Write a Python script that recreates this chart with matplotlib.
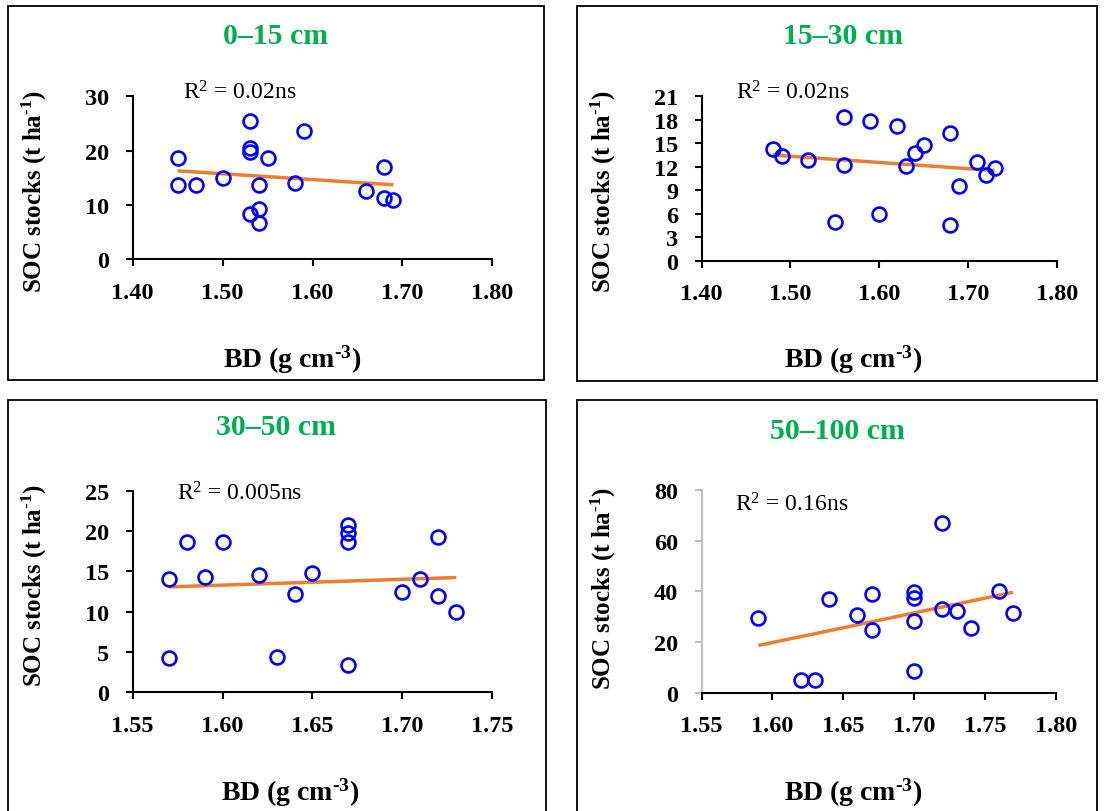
import numpy as np
import matplotlib
matplotlib.use('Agg')
import matplotlib.pyplot as plt
from matplotlib.patches import Rectangle

plt.rcParams['font.family'] = ['Liberation Serif', 'DejaVu Serif']
plt.rcParams['mathtext.fontset'] = 'custom'
plt.rcParams['mathtext.rm'] = 'Liberation Serif'
plt.rcParams['mathtext.bf'] = 'Liberation Serif:bold'
plt.rcParams['mathtext.it'] = 'Liberation Serif:italic'

# ---------------- data ----------------
titles = ['0–15 cm', '15–30 cm', '30–50 cm', '50–100 cm']
r2_labels = ['0.02ns', '0.02ns', '0.005ns', '0.16ns']

bd_0_15 = [1.45, 1.45, 1.47, 1.50, 1.53, 1.53, 1.53, 1.55, 1.54, 1.54, 1.53, 1.54,
           1.59, 1.58, 1.66, 1.68, 1.68, 1.69]
soc_0_15 = [18.6, 13.7, 13.7, 14.9, 25.4, 20.5, 19.8, 18.7, 13.7, 9.3, 8.3, 6.6,
            23.6, 14.0, 12.5, 16.9, 11.2, 10.9]

bd_15_30 = [1.48, 1.49, 1.52, 1.56, 1.56, 1.55, 1.59, 1.60, 1.62, 1.63, 1.64, 1.65,
            1.68, 1.68, 1.69, 1.71, 1.72, 1.73]
soc_15_30 = [14.3, 13.4, 12.8, 18.3, 12.2, 5.0, 17.8, 6.0, 17.2, 12.1, 13.8, 14.8,
             16.3, 4.5, 9.6, 12.6, 11.0, 11.8]

bd_30_50 = [1.57, 1.57, 1.58, 1.59, 1.60, 1.62, 1.63, 1.64, 1.65, 1.67, 1.67, 1.67,
            1.67, 1.70, 1.71, 1.72, 1.72, 1.73]
soc_30_50 = [14.0, 4.3, 18.6, 14.3, 18.6, 14.5, 4.4, 12.2, 14.8, 20.7, 19.7, 18.7,
             3.4, 12.5, 14.0, 19.3, 11.9, 9.9]

bd_50_100 = [1.59, 1.62, 1.63, 1.64, 1.66, 1.67, 1.67, 1.70, 1.70, 1.70, 1.70, 1.72,
             1.72, 1.73, 1.74, 1.76, 1.77]
soc_50_100 = [29.5, 5.1, 5.1, 37.0, 30.7, 38.9, 24.8, 39.6, 37.3, 28.2, 8.8, 66.9,
              33.1, 32.2, 25.5, 40.3, 31.5]

x_ticks_top = [1.40, 1.50, 1.60, 1.70, 1.80]
y_ticks_1 = [0, 10, 20, 30]
y_ticks_2 = [0, 3, 6, 9, 12, 15, 18, 21]
x_ticks_3 = [1.55, 1.60, 1.65, 1.70, 1.75]
y_ticks_3 = [0, 5, 10, 15, 20, 25]
x_ticks_4 = [1.55, 1.60, 1.65, 1.70, 1.75, 1.80]
y_ticks_4 = [0, 20, 40, 60, 80]

datasets = [
    (bd_0_15, soc_0_15, x_ticks_top, y_ticks_1),
    (bd_15_30, soc_15_30, x_ticks_top, y_ticks_2),
    (bd_30_50, soc_30_50, x_ticks_3, y_ticks_3),
    (bd_50_100, soc_50_100, x_ticks_4, y_ticks_4),
]

# ---------------- layout (pixels) ----------------
W, H = 1104, 812
fig = plt.figure(figsize=(W / 100, H / 100), dpi=100)


def rect(x0, y0, x1, y1):
    return [x0 / W, 1 - y1 / H, (x1 - x0) / W, (y1 - y0) / H]


boxes = [(8, 7, 544, 381), (577, 7, 1097, 382), (8, 401, 546, 830), (577, 401, 1097, 830)]
axes_px = [(132.7, 97.3, 492.3, 260.3), (701.7, 97.3, 1056.7, 261.7),
           (132.7, 491.7, 492.3, 693.3), (701.7, 490.7, 1055.7, 694.0)]
title_pos = [(276, 36), (843, 36), (276, 428), (837, 432)]
ylab_pos = [(34, 191), (603, 191), (34, 585), (603, 588)]
xlab_pos = [(292, 360), (853, 360), (290, 793), (853, 793)]
r2_pos = [(183, 93), (736, 93), (177, 494), (735, 505)]

green = '#00b050'
orange = '#ed7d31'

ylabel_txt = 'SOC stocks (t ha$^{\\mathbf{\u2010}\\mathbf{1}}$)'
xlabel_txt = 'BD (g cm$^{\\mathbf{\u2010}\\mathbf{3}}$)'

for i, (xs, ys, xt, yt) in enumerate(datasets):
    bx0, by0, bx1, by1 = boxes[i]
    fig.patches.append(Rectangle((bx0 / W, 1 - by1 / H), (bx1 - bx0) / W, (by1 - by0) / H,
                                 transform=fig.transFigure, fill=False, ec='black', lw=1.3))
    ax = fig.add_axes(rect(*axes_px[i]))
    ax.set_xlim(xt[0], xt[-1])
    ax.set_ylim(yt[0], yt[-1])
    ax.set_xticks(xt)
    ax.set_yticks(yt)
    ax.set_xticklabels([f'{v:.2f}' for v in xt])
    ax.set_yticklabels([f'{v:d}' for v in yt])
    for s in ['top', 'right']:
        ax.spines[s].set_visible(False)
    spine_col = '#bfbfbf' if i == 3 else 'black'
    ax.spines['left'].set_color(spine_col)
    ax.spines['left'].set_linewidth(1.5)
    ax.spines['bottom'].set_linewidth(1.5)
    ax.tick_params(axis='y', direction='out', length=5, width=1.5, color=spine_col, pad=12)
    ax.tick_params(axis='x', direction='out', length=5, width=1.5, pad=11)
    for lab in ax.get_xticklabels() + ax.get_yticklabels():
        lab.set_fontsize(17.5)
        lab.set_fontweight('bold')
    ax.patch.set_alpha(0)

    xa = np.array(xs)
    ya = np.array(ys)
    m, b = np.polyfit(xa, ya, 1)
    xl = np.array([xa.min(), xa.max()])
    ax.plot(xl, m * xl + b, color=orange, lw=2.5, zorder=2, solid_capstyle='butt')
    ax.plot(xa, ya, 'o', ms=10, mfc='none', mec='#0000ff', mew=1.9, zorder=3, clip_on=False)

    tx, ty = title_pos[i]
    fig.text(tx / W, 1 - ty / H, titles[i], color=green, fontsize=21.5, fontweight='bold',
             ha='center', va='center')
    lx, ly = ylab_pos[i]
    fig.text(lx / W, 1 - ly / H, ylabel_txt, fontsize=18,
             fontweight='bold', rotation=90, ha='center', va='center')
    lx, ly = xlab_pos[i]
    fig.text(lx / W, 1 - ly / H, xlabel_txt, fontsize=20,
             fontweight='bold', ha='center', va='center')
    rx, ry = r2_pos[i]
    fig.text(rx / W, 1 - ry / H, r'R$^{\mathrm{2}}$ = ' + r2_labels[i], fontsize=17,
             ha='left', va='center')

fig.savefig('out.png', dpi=100)
